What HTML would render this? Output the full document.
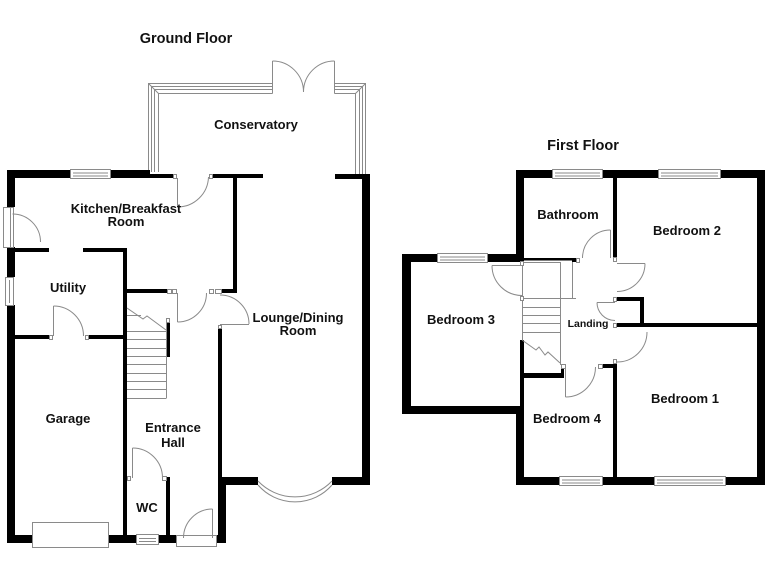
<!DOCTYPE html>
<html>
<head>
<meta charset="utf-8">
<style>
html,body{margin:0;padding:0;background:#fff;}
svg{display:block;}
text{font-family:"Liberation Sans",Arial,sans-serif;font-weight:bold;fill:#111;text-anchor:middle;}
</style>
</head>
<body>
<svg width="768" height="576" viewBox="0 0 768 576" xmlns="http://www.w3.org/2000/svg">
<rect width="768" height="576" fill="#fff"/>

<!-- ================= GROUND FLOOR ================= -->
<!-- Conservatory frame -->
<g fill="none" stroke="#8a8a8a" stroke-width="1">
  <polyline points="148.5,172 148.5,83.5 272.5,83.5"/>
  <polyline points="151.5,172 151.5,86.5 272.5,86.5"/>
  <polyline points="154.5,172 154.5,89.5 272.5,89.5"/>
  <polyline points="158.5,172 158.5,93.5 272.5,93.5"/>
  <line x1="272.5" y1="83.5" x2="272.5" y2="93.5"/>
  <polyline points="334.5,83.5 365.5,83.5 365.5,174"/>
  <polyline points="334.5,86.5 362.5,86.5 362.5,174"/>
  <polyline points="334.5,89.5 359.5,89.5 359.5,174"/>
  <polyline points="334.5,93.5 355.5,93.5 355.5,174"/>
  <line x1="334.5" y1="83.5" x2="334.5" y2="93.5"/>
  <line x1="148.5" y1="83.5" x2="158.5" y2="93.5"/>
  <line x1="365.5" y1="83.5" x2="355.5" y2="93.5"/>
  <!-- double doors -->
  <line x1="272.5" y1="93" x2="272.5" y2="61"/>
  <path d="M272.5,61 A31,31 0 0,1 303.5,92"/>
  <line x1="334.5" y1="93" x2="334.5" y2="61"/>
  <path d="M334.5,61 A31,31 0 0,0 303.5,92"/>
</g>

<!-- walls ground floor -->
<g fill="#000">
  <rect x="7" y="170" width="143" height="8"/>
  <rect x="150" y="174" width="23" height="4"/>
  <rect x="212" y="174" width="51" height="4"/>
  <rect x="335" y="174" width="35" height="5"/>
  <rect x="362" y="174" width="8" height="311"/>
  <rect x="7" y="170" width="8" height="37"/>
  <rect x="7" y="247" width="8" height="30"/>
  <rect x="7" y="305" width="8" height="238"/>
  <rect x="15" y="248" width="34" height="4"/>
  <rect x="83" y="248" width="44" height="4"/>
  <rect x="123" y="248" width="4" height="295"/>
  <rect x="233" y="174" width="4" height="119"/>
  <rect x="127" y="289" width="40" height="4"/>
  <rect x="222" y="289" width="15" height="4"/>
  <rect x="15" y="335" width="35" height="4"/>
  <rect x="88" y="335" width="35" height="4"/>
  <rect x="7" y="535" width="25" height="8"/>
  <rect x="108" y="535" width="28" height="8"/>
  <rect x="158" y="535" width="18" height="8"/>
  <rect x="216" y="535" width="10" height="8"/>
  <rect x="218" y="478" width="8" height="65"/>
  <rect x="218" y="327" width="4" height="158"/>
  <rect x="222" y="477" width="36" height="8"/>
  <rect x="332" y="477" width="38" height="8"/>
  <rect x="166" y="477" width="4" height="66"/>
  <rect x="166" y="322" width="4" height="35"/>
</g>

<!-- windows / frames ground -->
<g fill="#fff" stroke="#8a8a8a" stroke-width="1">
  <rect x="70.5" y="169.5" width="40" height="9"/>
  <rect x="5.5" y="277.5" width="8" height="28"/>
  <rect x="3.5" y="207.5" width="10" height="40"/>
  <rect x="32.5" y="522.5" width="76" height="25"/>
  <rect x="136.5" y="534.5" width="22" height="10"/>
  <rect x="176.5" y="535.5" width="40" height="11"/>
</g>
<g fill="none" stroke="#8a8a8a" stroke-width="1">
  <line x1="73" y1="173" x2="108" y2="173"/>
  <line x1="73" y1="176" x2="108" y2="176"/>
  <line x1="9.5" y1="280" x2="9.5" y2="303"/>
  <line x1="10.5" y1="207" x2="10.5" y2="247"/>
  <line x1="139" y1="538.5" x2="156" y2="538.5"/>
  <line x1="139" y1="541.5" x2="156" y2="541.5"/>
  <!-- bay window -->
  <path d="M258,485 A49,49 0 0,0 332,485"/>
  <path d="M258,481 A51,51 0 0,0 332,481"/>
  <!-- doors -->
  <line x1="177.5" y1="178" x2="177.5" y2="207"/>
  <path d="M177.5,207 A31,31 0 0,0 208.5,177"/>
  <path d="M12.5,214 A28,28 0 0,1 40.5,242"/>
  <line x1="177.5" y1="293" x2="177.5" y2="322"/>
  <path d="M177.5,322 A29,29 0 0,0 206.5,293"/>
  <line x1="220" y1="324.5" x2="249" y2="324.5"/>
  <path d="M220,295 A29,29 0 0,1 249,324"/>
  <line x1="53.5" y1="306" x2="53.5" y2="336"/>
  <path d="M53.5,306 A30,30 0 0,1 83.5,336"/>
  <line x1="132.5" y1="448" x2="132.5" y2="478"/>
  <path d="M132.5,448 A30,30 0 0,1 162.5,478"/>
  <line x1="212.5" y1="509" x2="212.5" y2="538"/>
  <path d="M212.5,509 A29,29 0 0,0 183.5,538"/>
  <!-- stairs -->
  <line x1="166.5" y1="322" x2="166.5" y2="398"/>
  <line x1="127" y1="398.5" x2="166.5" y2="398.5"/>
  <line x1="127" y1="331.5" x2="166" y2="331.5"/>
  <line x1="127" y1="339.5" x2="166" y2="339.5"/>
  <line x1="127" y1="348.5" x2="166" y2="348.5"/>
  <line x1="127" y1="356.5" x2="166" y2="356.5"/>
  <line x1="127" y1="364.5" x2="166" y2="364.5"/>
  <line x1="127" y1="373.5" x2="166" y2="373.5"/>
  <line x1="127" y1="381.5" x2="166" y2="381.5"/>
  <line x1="127" y1="389.5" x2="166" y2="389.5"/>
  <polyline points="127,308 143,319 147,316 166,330"/>
  <line x1="127" y1="315.5" x2="141" y2="315.5"/>
</g>
<!-- jambs ground -->
<g fill="#fff" stroke="#8a8a8a" stroke-width="1">
  <rect x="173.5" y="174.5" width="3" height="4"/>
  <rect x="209.5" y="174.5" width="3" height="4"/>
  <rect x="167.5" y="289.5" width="4" height="4"/>
  <rect x="172.5" y="289.5" width="4" height="4"/>
  <rect x="209.5" y="289.5" width="4" height="4"/>
  <rect x="215.5" y="289.5" width="6" height="4"/>
  <rect x="218.5" y="325.5" width="3" height="3"/>
  <rect x="49.5" y="335.5" width="3" height="4"/>
  <rect x="85.5" y="335.5" width="3" height="4"/>
  <rect x="127.5" y="476.5" width="3" height="4"/>
  <rect x="162.5" y="476.5" width="4" height="4"/>
  <rect x="166.5" y="318.5" width="3" height="4"/>
</g>

<!-- labels ground -->
<text x="186" y="43" font-size="14.5">Ground Floor</text>
<text x="256" y="129" font-size="13">Conservatory</text>
<text x="126" y="213" font-size="13">Kitchen/Breakfast</text>
<text x="126" y="226" font-size="13">Room</text>
<text x="68" y="292" font-size="13">Utility</text>
<text x="298" y="322" font-size="13">Lounge/Dining</text>
<text x="298" y="335" font-size="13">Room</text>
<text x="68" y="423" font-size="13">Garage</text>
<text x="173" y="432" font-size="13">Entrance</text>
<text x="173" y="447" font-size="13">Hall</text>
<text x="147" y="512" font-size="13">WC</text>

<!-- ================= FIRST FLOOR ================= -->
<g fill="#000">
  <rect x="516" y="170" width="249" height="8"/>
  <rect x="516" y="170" width="8" height="92"/>
  <rect x="402" y="254" width="122" height="8"/>
  <rect x="402" y="254" width="9" height="160"/>
  <rect x="402" y="406" width="122" height="8"/>
  <rect x="516" y="406" width="8" height="79"/>
  <rect x="520" y="340" width="4" height="70"/>
  <rect x="516" y="477" width="249" height="8"/>
  <rect x="757" y="170" width="8" height="315"/>
  <rect x="613" y="178" width="4" height="80"/>
  <rect x="524" y="258" width="48" height="2.5"/>
  <rect x="572" y="258" width="4" height="4"/>
  <rect x="617" y="323" width="140" height="4"/>
  <rect x="617" y="297" width="27" height="4"/>
  <rect x="640" y="297" width="4" height="30"/>
  <rect x="613" y="364" width="4" height="113"/>
  <rect x="602" y="364" width="15" height="4"/>
  <rect x="523" y="373" width="41" height="5"/>
  <rect x="561" y="365" width="3" height="13"/>
</g>
<!-- windows first -->
<g fill="#fff" stroke="#8a8a8a" stroke-width="1">
  <rect x="552.5" y="169.5" width="50" height="9"/>
  <rect x="658.5" y="169.5" width="62" height="9"/>
  <rect x="437.5" y="253.5" width="50" height="9"/>
  <rect x="559.5" y="476.5" width="43" height="9"/>
  <rect x="654.5" y="476.5" width="71" height="9"/>
</g>
<g fill="none" stroke="#8a8a8a" stroke-width="1">
  <line x1="555" y1="173" x2="600" y2="173"/>
  <line x1="555" y1="176" x2="600" y2="176"/>
  <line x1="661" y1="173" x2="718" y2="173"/>
  <line x1="661" y1="176" x2="718" y2="176"/>
  <line x1="440" y1="257" x2="485" y2="257"/>
  <line x1="440" y1="260" x2="485" y2="260"/>
  <line x1="562" y1="480" x2="600" y2="480"/>
  <line x1="562" y1="483" x2="600" y2="483"/>
  <line x1="657" y1="480" x2="723" y2="480"/>
  <line x1="657" y1="483" x2="723" y2="483"/>
  <!-- stairs -->
  <rect x="522.5" y="262.5" width="38" height="36"/>
  <line x1="572.5" y1="262" x2="572.5" y2="298"/>
  <line x1="560" y1="298.5" x2="576" y2="298.5"/>
  <line x1="522" y1="307.5" x2="560" y2="307.5"/>
  <line x1="522" y1="315.5" x2="560" y2="315.5"/>
  <line x1="522" y1="323.5" x2="560" y2="323.5"/>
  <line x1="522" y1="332.5" x2="560" y2="332.5"/>
  <line x1="522.5" y1="298" x2="522.5" y2="340"/>
  <line x1="560.5" y1="298" x2="560.5" y2="365"/>
  <polyline points="522,340 536,350 539,347 545,355 548,352 560,363"/>
  <!-- doors -->
  <line x1="492" y1="265.5" x2="522" y2="265.5"/>
  <path d="M492,265.5 A30,30 0 0,0 522,295.5"/>
  <line x1="610.5" y1="230" x2="610.5" y2="258"/>
  <path d="M610.5,230 A28,28 0 0,0 582.5,258"/>
  <line x1="617" y1="263.5" x2="645" y2="263.5"/>
  <path d="M645,263.5 A28,28 0 0,1 617,291.5"/>
  <line x1="597" y1="302.5" x2="615" y2="302.5"/>
  <path d="M597,302.5 A18,18 0 0,0 615,320.5"/>
  <path d="M647,332 A30,30 0 0,1 617,362"/>
  <line x1="565.5" y1="368" x2="565.5" y2="397"/>
  <path d="M565.5,397 A30,30 0 0,0 595.5,367"/>
</g>
<!-- jambs first -->
<g fill="#fff" stroke="#8a8a8a" stroke-width="1">
  <rect x="520.5" y="261.5" width="3" height="4"/>
  <rect x="520.5" y="296.5" width="3" height="4"/>
  <rect x="576.5" y="258.5" width="3" height="4"/>
  <rect x="613.5" y="257.5" width="3" height="4"/>
  <rect x="613.5" y="297.5" width="3" height="4"/>
  <rect x="613.5" y="323.5" width="3" height="4"/>
  <rect x="613.5" y="359.5" width="3" height="4"/>
  <rect x="561.5" y="364.5" width="4" height="4"/>
  <rect x="598.5" y="364.5" width="4" height="4"/>
</g>

<!-- labels first -->
<text x="583" y="150" font-size="14.5">First Floor</text>
<text x="568" y="219" font-size="13">Bathroom</text>
<text x="687" y="235" font-size="13">Bedroom 2</text>
<text x="461" y="324" font-size="13">Bedroom 3</text>
<text x="588" y="327" font-size="10.5">Landing</text>
<text x="685" y="403" font-size="13">Bedroom 1</text>
<text x="567" y="423" font-size="13">Bedroom 4</text>
</svg>
</body>
</html>
